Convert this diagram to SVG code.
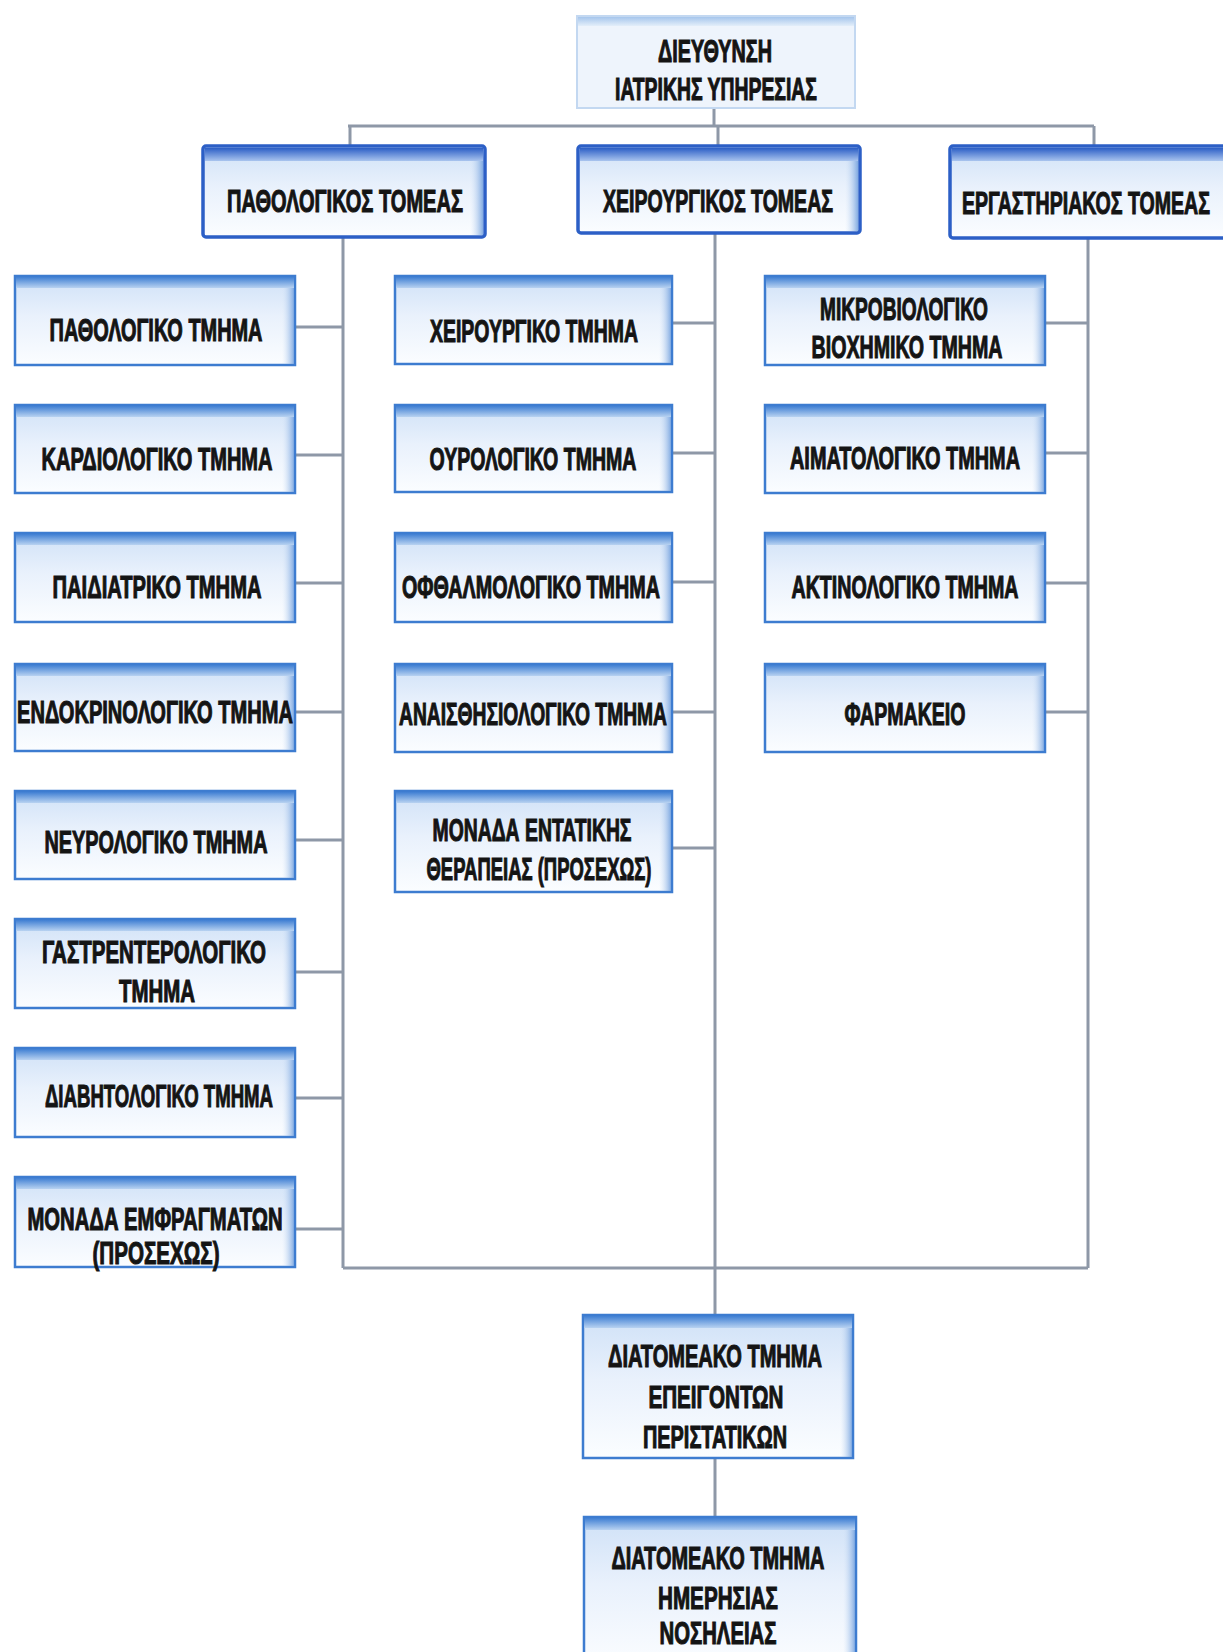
<svg xmlns="http://www.w3.org/2000/svg" width="1223" height="1652" viewBox="0 0 1223 1652">
<defs>
<linearGradient id="fill" x1="0" y1="0" x2="0" y2="1">
<stop offset="0" stop-color="#cfe1f7"/>
<stop offset="0.45" stop-color="#e9f1fc"/>
<stop offset="1" stop-color="#fbfdff"/>
</linearGradient>
<linearGradient id="band" x1="0" y1="0" x2="0" y2="1">
<stop offset="0" stop-color="#3f7fd3"/>
<stop offset="1" stop-color="#b8d2f1"/>
</linearGradient>
<linearGradient id="sband" x1="0" y1="0" x2="0" y2="1">
<stop offset="0" stop-color="#2c5fc6"/>
<stop offset="1" stop-color="#a9c4ee"/>
</linearGradient>
<linearGradient id="tband" x1="0" y1="0" x2="0" y2="1">
<stop offset="0" stop-color="#a6c6ec"/>
<stop offset="1" stop-color="#e3eefa"/>
</linearGradient>
<linearGradient id="rshade" x1="0" y1="0" x2="1" y2="0">
<stop offset="0" stop-color="#cfe0f5" stop-opacity="0"/>
<stop offset="1" stop-color="#6f9edd" stop-opacity="0.85"/>
</linearGradient>
</defs>
<style>
.box{fill:url(#fill);stroke:#3d7cd0;stroke-width:2.5}
.sec{fill:url(#fill);stroke:#2c5fc6;stroke-width:3.5}
.top{fill:#eef4fc;stroke:#c3d8f1;stroke-width:2}
.band{fill:url(#band)}
.sband{fill:url(#sband)}
.tband{fill:url(#tband)}
.rs{fill:url(#rshade)}
text{font-family:"Liberation Sans Narrow","Liberation Sans",Arial,sans-serif;font-weight:bold;font-size:31px;fill:#141414;stroke:#141414;stroke-width:1.1px;text-anchor:middle}
.conn{stroke:#8e98a7;stroke-width:3;fill:none}
</style>
<rect width="1223" height="1652" fill="#ffffff"/>

<g id="connectors">
<path class="conn" d="M714 108 V126 M348 126 H1094 M350 126 V145 M718 126 V145 M1094 126 V145"/>
<path class="conn" d="M343 237 V1268 M715 233 V1268 M1088 238 V1268 M343 1268 H1088 M715 1268 V1315 M715 1458 V1517"/>
<path class="conn" d="M295 327 H343 M295 455 H343 M295 583 H343 M295 712 H343 M295 840 H343 M295 972 H343 M295 1098 H343 M295 1229 H343"/>
<path class="conn" d="M672 323 H715 M672 453 H715 M672 582 H715 M672 712 H715 M672 848 H715"/>
<path class="conn" d="M1045 323 H1088 M1045 453 H1088 M1045 583 H1088 M1045 712 H1088"/>
</g>

<g id="dieythynsi">
<rect class="top" x="577" y="16" width="278" height="92"/>
<rect class="tband" x="578" y="17" width="276" height="9"/>
<text x="715" y="62" textLength="114" lengthAdjust="spacingAndGlyphs">ΔΙΕΥΘΥΝΣΗ</text>
<text x="716" y="100" textLength="202" lengthAdjust="spacingAndGlyphs">ΙΑΤΡΙΚΗΣ ΥΠΗΡΕΣΙΑΣ</text>
</g>

<g id="pathologikos-tomeas">
<rect class="sec" x="203" y="146" width="282" height="91" rx="3"/>
<rect class="sband" x="205" y="148" width="278" height="13"/>
<rect class="rs" x="470" y="161" width="13" height="74"/>
<text x="345" y="212" textLength="236" lengthAdjust="spacingAndGlyphs">ΠΑΘΟΛΟΓΙΚΟΣ ΤΟΜΕΑΣ</text>
</g>
<g id="xeirourgikos-tomeas">
<rect class="sec" x="578" y="146" width="282" height="87" rx="3"/>
<rect class="sband" x="580" y="148" width="278" height="13"/>
<rect class="rs" x="845" y="161" width="13" height="70"/>
<text x="718" y="212" textLength="230" lengthAdjust="spacingAndGlyphs">ΧΕΙΡΟΥΡΓΙΚΟΣ ΤΟΜΕΑΣ</text>
</g>
<g id="ergastiriakos-tomeas">
<rect class="sec" x="950" y="146" width="285" height="92" rx="3"/>
<rect class="sband" x="952" y="148" width="281" height="13"/>
<text x="1086" y="214" textLength="248" lengthAdjust="spacingAndGlyphs">ΕΡΓΑΣΤΗΡΙΑΚΟΣ ΤΟΜΕΑΣ</text>
</g>

<!-- Left column -->
<g id="pathologiko">
<rect class="box" x="15" y="276" width="280" height="89"/>
<rect class="band" x="16" y="277" width="278" height="11"/>
<rect class="rs" x="282" y="288" width="12" height="76"/>
<text x="156" y="341" textLength="213" lengthAdjust="spacingAndGlyphs">ΠΑΘΟΛΟΓΙΚΟ ΤΜΗΜΑ</text>
</g>
<g id="kardiologiko">
<rect class="box" x="15" y="405" width="280" height="88"/>
<rect class="band" x="16" y="406" width="278" height="11"/>
<rect class="rs" x="282" y="417" width="12" height="75"/>
<text x="157" y="470" textLength="231" lengthAdjust="spacingAndGlyphs">ΚΑΡΔΙΟΛΟΓΙΚΟ ΤΜΗΜΑ</text>
</g>
<g id="paidiatriko">
<rect class="box" x="15" y="533" width="280" height="89"/>
<rect class="band" x="16" y="534" width="278" height="11"/>
<rect class="rs" x="282" y="545" width="12" height="76"/>
<text x="157" y="598" textLength="209" lengthAdjust="spacingAndGlyphs">ΠΑΙΔΙΑΤΡΙΚΟ ΤΜΗΜΑ</text>
</g>
<g id="endokrinologiko">
<rect class="box" x="15" y="664" width="280" height="87"/>
<rect class="band" x="16" y="665" width="278" height="11"/>
<rect class="rs" x="282" y="676" width="12" height="74"/>
<text x="155" y="723" textLength="276" lengthAdjust="spacingAndGlyphs">ΕΝΔΟΚΡΙΝΟΛΟΓΙΚΟ ΤΜΗΜΑ</text>
</g>
<g id="neurologiko">
<rect class="box" x="15" y="791" width="280" height="88"/>
<rect class="band" x="16" y="792" width="278" height="11"/>
<rect class="rs" x="282" y="803" width="12" height="75"/>
<text x="156" y="853" textLength="223" lengthAdjust="spacingAndGlyphs">ΝΕΥΡΟΛΟΓΙΚΟ ΤΜΗΜΑ</text>
</g>
<g id="gastrenterologiko">
<rect class="box" x="15" y="919" width="280" height="89"/>
<rect class="band" x="16" y="920" width="278" height="11"/>
<rect class="rs" x="282" y="931" width="12" height="76"/>
<text x="154" y="963" textLength="224" lengthAdjust="spacingAndGlyphs">ΓΑΣΤΡΕΝΤΕΡΟΛΟΓΙΚΟ</text>
<text x="157" y="1002" textLength="76" lengthAdjust="spacingAndGlyphs">ΤΜΗΜΑ</text>
</g>
<g id="diavitologiko">
<rect class="box" x="15" y="1048" width="280" height="89"/>
<rect class="band" x="16" y="1049" width="278" height="11"/>
<rect class="rs" x="282" y="1060" width="12" height="76"/>
<text x="159" y="1107" textLength="228" lengthAdjust="spacingAndGlyphs">ΔΙΑΒΗΤΟΛΟΓΙΚΟ ΤΜΗΜΑ</text>
</g>
<g id="monada-emfragmaton">
<rect class="box" x="15" y="1177" width="280" height="90"/>
<rect class="band" x="16" y="1178" width="278" height="11"/>
<rect class="rs" x="282" y="1189" width="12" height="77"/>
<text x="155" y="1230" textLength="255" lengthAdjust="spacingAndGlyphs">ΜΟΝΑΔΑ ΕΜΦΡΑΓΜΑΤΩΝ</text>
<text x="156" y="1264" textLength="127" lengthAdjust="spacingAndGlyphs">(ΠΡΟΣΕΧΩΣ)</text>
</g>

<!-- Middle column -->
<g id="xeirourgiko">
<rect class="box" x="395" y="276" width="277" height="88"/>
<rect class="band" x="396" y="277" width="275" height="11"/>
<rect class="rs" x="659" y="288" width="12" height="75"/>
<text x="534" y="342" textLength="208" lengthAdjust="spacingAndGlyphs">ΧΕΙΡΟΥΡΓΙΚΟ ΤΜΗΜΑ</text>
</g>
<g id="ourologiko">
<rect class="box" x="395" y="405" width="277" height="87"/>
<rect class="band" x="396" y="406" width="275" height="11"/>
<rect class="rs" x="659" y="417" width="12" height="74"/>
<text x="533" y="470" textLength="207" lengthAdjust="spacingAndGlyphs">ΟΥΡΟΛΟΓΙΚΟ ΤΜΗΜΑ</text>
</g>
<g id="ofthalmologiko">
<rect class="box" x="395" y="533" width="277" height="89"/>
<rect class="band" x="396" y="534" width="275" height="11"/>
<rect class="rs" x="659" y="545" width="12" height="76"/>
<text x="531" y="598" textLength="258" lengthAdjust="spacingAndGlyphs">ΟΦΘΑΛΜΟΛΟΓΙΚΟ ΤΜΗΜΑ</text>
</g>
<g id="anaisthisiologiko">
<rect class="box" x="395" y="664" width="277" height="88"/>
<rect class="band" x="396" y="665" width="275" height="11"/>
<rect class="rs" x="659" y="676" width="12" height="75"/>
<text x="533" y="725" textLength="268" lengthAdjust="spacingAndGlyphs">ΑΝΑΙΣΘΗΣΙΟΛΟΓΙΚΟ ΤΜΗΜΑ</text>
</g>
<g id="monada-entatikis">
<rect class="box" x="395" y="791" width="277" height="101"/>
<rect class="band" x="396" y="792" width="275" height="11"/>
<rect class="rs" x="659" y="803" width="12" height="88"/>
<text x="532" y="841" textLength="199" lengthAdjust="spacingAndGlyphs">ΜΟΝΑΔΑ ΕΝΤΑΤΙΚΗΣ</text>
<text x="539" y="880" textLength="225" lengthAdjust="spacingAndGlyphs">ΘΕΡΑΠΕΙΑΣ (ΠΡΟΣΕΧΩΣ)</text>
</g>

<!-- Right column -->
<g id="mikroviologiko">
<rect class="box" x="765" y="276" width="280" height="89"/>
<rect class="band" x="766" y="277" width="278" height="11"/>
<rect class="rs" x="1032" y="288" width="12" height="76"/>
<text x="904" y="320" textLength="168" lengthAdjust="spacingAndGlyphs">ΜΙΚΡΟΒΙΟΛΟΓΙΚΟ</text>
<text x="907" y="358" textLength="191" lengthAdjust="spacingAndGlyphs">ΒΙΟΧΗΜΙΚΟ ΤΜΗΜΑ</text>
</g>
<g id="aimatologiko">
<rect class="box" x="765" y="405" width="280" height="88"/>
<rect class="band" x="766" y="406" width="278" height="11"/>
<rect class="rs" x="1032" y="417" width="12" height="75"/>
<text x="905" y="469" textLength="230" lengthAdjust="spacingAndGlyphs">ΑΙΜΑΤΟΛΟΓΙΚΟ ΤΜΗΜΑ</text>
</g>
<g id="aktinologiko">
<rect class="box" x="765" y="533" width="280" height="89"/>
<rect class="band" x="766" y="534" width="278" height="11"/>
<rect class="rs" x="1032" y="545" width="12" height="76"/>
<text x="905" y="598" textLength="227" lengthAdjust="spacingAndGlyphs">ΑΚΤΙΝΟΛΟΓΙΚΟ ΤΜΗΜΑ</text>
</g>
<g id="farmakeio">
<rect class="box" x="765" y="664" width="280" height="88"/>
<rect class="band" x="766" y="665" width="278" height="11"/>
<rect class="rs" x="1032" y="676" width="12" height="75"/>
<text x="905" y="725" textLength="121" lengthAdjust="spacingAndGlyphs">ΦΑΡΜΑΚΕΙΟ</text>
</g>

<!-- Bottom -->
<g id="epeigonton">
<rect class="box" x="583" y="1315" width="270" height="143"/>
<rect class="band" x="584" y="1316" width="268" height="12"/>
<rect class="rs" x="840" y="1328" width="12" height="129"/>
<text x="715" y="1367" textLength="214" lengthAdjust="spacingAndGlyphs">ΔΙΑΤΟΜΕΑΚΟ ΤΜΗΜΑ</text>
<text x="716" y="1408" textLength="135" lengthAdjust="spacingAndGlyphs">ΕΠΕΙΓΟΝΤΩΝ</text>
<text x="715" y="1448" textLength="144" lengthAdjust="spacingAndGlyphs">ΠΕΡΙΣΤΑΤΙΚΩΝ</text>
</g>
<g id="imerisias">
<rect class="box" x="584" y="1517" width="272" height="150"/>
<rect class="band" x="585" y="1518" width="270" height="12"/>
<rect class="rs" x="843" y="1530" width="12" height="122"/>
<text x="718" y="1569" textLength="213" lengthAdjust="spacingAndGlyphs">ΔΙΑΤΟΜΕΑΚΟ ΤΜΗΜΑ</text>
<text x="718" y="1609" textLength="120" lengthAdjust="spacingAndGlyphs">ΗΜΕΡΗΣΙΑΣ</text>
<text x="718" y="1644" textLength="117" lengthAdjust="spacingAndGlyphs">ΝΟΣΗΛΕΙΑΣ</text>
</g>
</svg>
